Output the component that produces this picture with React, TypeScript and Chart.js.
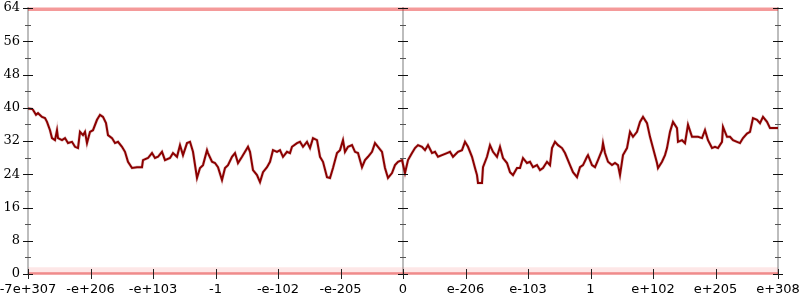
import React, { useEffect, useRef } from "react";
import { Chart, registerables } from "chart.js";

Chart.register(...registerables);

// x positions are an ordinal position along the axis (0..750); labels below name the tick values
const X_TICK_LABELS = ["-7e+307", "-e+206", "-e+103", "-1", "-e-102", "-e-205", "0", "e-206", "e-103", "1", "e+102", "e+205", "e+308"];
const X_MIN = 0;
const X_MAX = 750;
const Y_MIN = 0;
const Y_MAX = 64;
const Y_STEP = 8;

// main trace: [position, value]
const TRACE: [number, number][] = [
  [0,39.8],[4,39.7],[5,39.5],[8,38.3],[10,38.7],[14,37.8],[17,37.5],[19,36.6],[22,34.6],[24,32.7],[27,32.2],[29,34.6],[30,32.7],[34,32.2],[37,32.7],[40,31.5],[44,31.8],[47,30.6],[50,30.3],[52,34.2],[55,33.4],[57,34.2],[59,31.5],[62,34.2],[65,34.6],[69,37.1],[72,38.3],[75,37.8],[78,36.3],[80,33.4],[84,32.7],[87,31.5],[90,31.8],[94,30.6],[97,29.4],[100,27.0],[104,25.5],[109,25.7],[114,25.7],[115,27.4],[120,27.9],[124,29.1],[127,27.9],[130,28.2],[134,29.4],[137,27.4],[142,27.9],[145,29.1],[149,28.2],[152,31.0],[155,28.6],[159,31.5],[162,31.8],[165,29.4],[169,23.1],[172,25.5],[175,26.2],[179,29.8],[180,29.1],[184,27.0],[187,26.7],[190,25.7],[194,22.6],[197,25.5],[200,26.2],[204,28.2],[207,29.1],[210,26.7],[214,28.2],[217,29.4],[220,30.6],[222,29.4],[225,25.0],[229,23.8],[232,22.1],[235,24.5],[239,25.7],[242,27.0],[245,29.8],[249,29.4],[252,29.8],[255,28.2],[259,29.4],[262,29.1],[264,30.6],[269,31.5],[272,31.8],[275,30.6],[279,31.8],[282,30.3],[285,32.7],[289,32.2],[292,28.2],[295,27.0],[299,23.3],[302,23.1],[305,25.5],[309,29.1],[312,29.8],[315,32.2],[317,29.4],[320,30.6],[324,31.0],[327,29.4],[330,29.1],[334,25.7],[337,27.4],[340,28.2],[344,29.4],[347,31.5],[350,30.6],[354,29.4],[357,25.5],[360,23.1],[364,24.3],[367,26.2],[370,27.0],[374,27.4],[377,24.3],[380,27.4],[384,29.1],[387,30.3],[390,31.0],[394,30.6],[397,29.8],[400,31.0],[404,29.1],[407,29.4],[410,28.2],[414,28.6],[419,29.1],[422,29.4],[425,28.2],[430,29.4],[434,29.8],[437,31.8],[440,30.6],[444,28.2],[447,25.5],[449,23.8],[450,21.9],[454,21.9],[455,25.7],[459,28.2],[462,31.0],[465,29.4],[469,28.2],[472,30.6],[475,27.9],[479,26.7],[482,24.5],[485,23.8],[489,25.5],[492,25.5],[495,27.9],[499,26.7],[502,27.0],[505,25.7],[509,26.2],[512,25.0],[515,25.5],[519,27.0],[522,26.2],[524,30.3],[527,31.8],[530,31.0],[534,30.3],[537,29.1],[542,26.2],[545,24.5],[549,23.3],[552,25.7],[555,26.2],[559,28.2],[560,28.6],[564,26.2],[567,25.7],[570,27.4],[574,29.8],[575,31.5],[577,29.1],[580,27.0],[584,26.2],[587,26.7],[590,26.2],[592,23.8],[595,28.6],[599,30.3],[602,34.2],[605,33.0],[609,34.2],[612,36.6],[615,37.8],[619,36.3],[622,33.0],[625,30.3],[629,26.7],[630,25.5],[634,27.0],[637,28.6],[639,30.3],[642,34.2],[645,36.6],[649,35.1],[650,31.8],[654,32.2],[657,31.5],[660,35.9],[664,33.0],[667,33.0],[670,33.0],[674,32.7],[677,34.6],[680,32.2],[684,30.3],[687,30.6],[690,30.3],[694,31.8],[695,35.4],[699,33.0],[702,33.0],[705,32.2],[709,31.8],[712,31.5],[715,32.7],[719,33.8],[722,34.2],[725,37.5],[729,37.1],[732,36.3],[735,37.8],[739,36.6],[742,35.1],[750,35.1]
];

// rug bands of faint samples at the extremes
const TOP_RUG_Y = 63.7;
const BOTTOM_RUG_Y = 0.1;
const BOTTOM_RUG_HALO_Y = 0.9;

// positions of the vertical axes
const V_AXES = [0, 375, 750];

const axesPlugin = {
  id: "customAxes",
  beforeDatasetsDraw(chart: any) {
    const { ctx, scales } = chart;
    const xs = scales.x, ys = scales.y;
    ctx.save();
    ctx.strokeStyle = "#bdbdbd";
    ctx.lineWidth = 2;
    const top = ys.getPixelForValue(Y_MAX) - 1;
    const bot = ys.getPixelForValue(Y_MIN);
    for (const v of V_AXES) {
      const px = Math.round(xs.getPixelForValue(v));
      ctx.beginPath();
      ctx.moveTo(px, top);
      ctx.lineTo(px, bot);
      ctx.stroke();
    }
    ctx.restore();
  },
  afterDatasetsDraw(chart: any) {
    const { ctx, scales } = chart;
    const xs = scales.x, ys = scales.y;
    ctx.save();
    ctx.lineWidth = 1;
    for (const v of V_AXES) {
      const px = Math.round(xs.getPixelForValue(v));
      for (let y = Y_MIN; y <= Y_MAX; y += Y_STEP / 2) {
        const py = Math.round(ys.getPixelForValue(y)) + 0.5;
        const major = y % Y_STEP === 0;
        const len = major ? 5 : 3;
        ctx.strokeStyle = major ? "#111" : "#555";
        ctx.beginPath();
        ctx.moveTo(px - len, py);
        ctx.lineTo(px + len, py);
        ctx.stroke();
      }
    }
    const py0 = ys.getPixelForValue(Y_MIN);
    ctx.strokeStyle = "#222";
    for (let i = 0; i < X_TICK_LABELS.length; i++) {
      const v = X_MIN + (i * (X_MAX - X_MIN)) / (X_TICK_LABELS.length - 1);
      const px = Math.round(xs.getPixelForValue(v)) + 0.5;
      ctx.beginPath();
      ctx.moveTo(px, py0 - 5);
      ctx.lineTo(px, py0 + 5);
      ctx.stroke();
    }
    ctx.restore();
  },
};

export default function App() {
  const ref = useRef<HTMLCanvasElement | null>(null);
  useEffect(() => {
    if (!ref.current) return;
    const step = (X_MAX - X_MIN) / (X_TICK_LABELS.length - 1);
    const chart = new Chart(ref.current, {
      type: "line",
      data: {
        datasets: [
          {
            data: [{ x: X_MIN, y: TOP_RUG_Y }, { x: X_MAX, y: TOP_RUG_Y }],
            borderColor: "rgba(230,30,30,0.45)",
            borderWidth: 3.5,
            pointRadius: 0,
            clip: false as any,
          },
          {
            data: [{ x: X_MIN, y: BOTTOM_RUG_HALO_Y }, { x: X_MAX, y: BOTTOM_RUG_HALO_Y }],
            borderColor: "rgba(240,70,70,0.13)",
            borderWidth: 6,
            pointRadius: 0,
            clip: false as any,
          },
          {
            data: [{ x: X_MIN, y: BOTTOM_RUG_Y }, { x: X_MAX, y: BOTTOM_RUG_Y }],
            borderColor: "rgba(225,30,30,0.5)",
            borderWidth: 2.5,
            pointRadius: 0,
            clip: false as any,
          },
          {
            data: TRACE.map(([x, y]) => ({ x, y })),
            borderColor: "rgba(139,0,0,0.18)",
            borderWidth: 3.2,
            pointRadius: 0,
            tension: 0,
          },
          {
            data: TRACE.map(([x, y]) => ({ x, y })),
            borderColor: "#8b0000",
            borderWidth: 2,
            pointRadius: 0,
            tension: 0,
          },
        ],
      },
      options: {
        animation: false,
        responsive: false,
        devicePixelRatio: 1,
        layout: { padding: { top: 8, right: 22, left: 0, bottom: 0 } },
        plugins: { legend: { display: false }, tooltip: { enabled: false } },
        scales: {
          x: {
            type: "linear",
            min: X_MIN,
            max: X_MAX,
            grid: { display: false, drawTicks: false },
            border: { display: false },
            ticks: {
              stepSize: step,
              autoSkip: false,
              maxRotation: 0,
              padding: 8,
              color: "#000",
              font: { family: "DejaVu Sans", size: 13 },
              callback: (v: any) => X_TICK_LABELS[Math.round((Number(v) - X_MIN) / step)] ?? "",
            },
            afterFit: (s: any) => {
              s.height = 26;
              s.paddingLeft = 0;
              s.paddingRight = 0;
            },
          },
          y: {
            type: "linear",
            min: Y_MIN,
            max: Y_MAX,
            grid: { display: false, drawTicks: false },
            border: { display: false },
            ticks: {
              stepSize: Y_STEP,
              padding: 8,
              color: "#000",
              font: { family: "DejaVu Serif", size: 13 },
            },
            afterFit: (s: any) => {
              s.width = 28;
              s.paddingTop = 0;
              s.paddingBottom = 0;
            },
          },
        },
      },
      plugins: [axesPlugin],
    });
    return () => chart.destroy();
  }, []);
  return (
    <div style={{ position: "fixed", left: 0, top: 0, width: 800, height: 300, background: "#fff" }}>
      <canvas ref={ref} width={800} height={300} />
    </div>
  );
}
